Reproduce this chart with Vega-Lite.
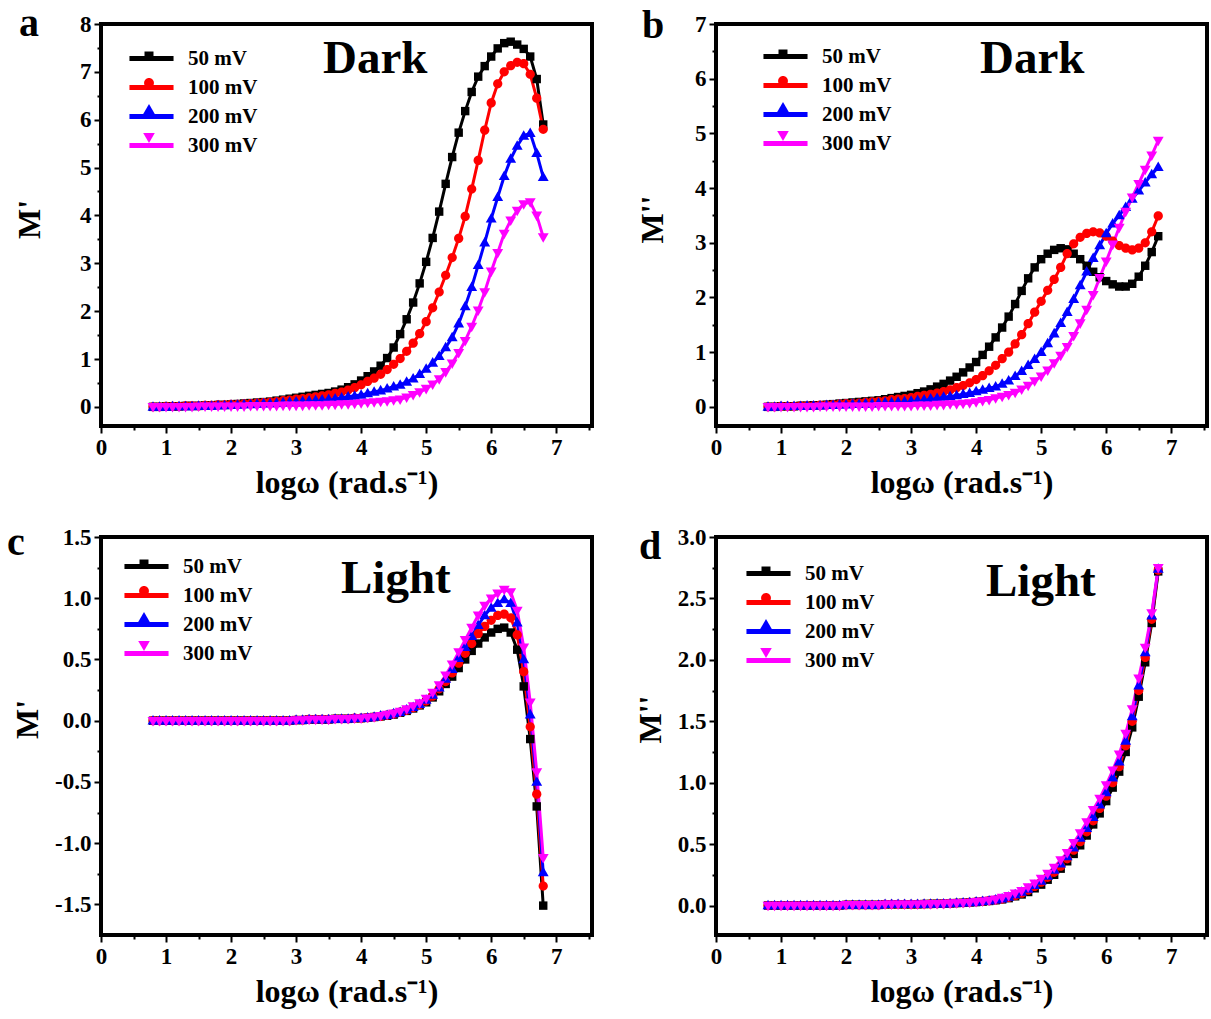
{
"$schema": "https://vega.github.io/schema/vega-lite/v6.json",
"background": "white",
"padding": {"left": 5, "top": 1, "right": 5, "bottom": 5},
"bounds": "flush",
"columns": 2,
"spacing": {"row": 111, "column": 124},
"resolve": {"legend": {"color": "independent", "fill": "independent", "shape": "independent"}},
"config": {
  "font": "Liberation Serif",
  "view": {"stroke": "black", "strokeWidth": 4},
  "axis": {"labelFont": "Liberation Serif", "labelFontWeight": "bold", "labelFontSize": 23, "labelColor": "black", "titleFont": "Liberation Serif", "titleFontWeight": "bold", "titleColor": "black", "domain": false, "grid": false, "tickColor": "black", "tickWidth": 2, "labelOverlap": false, "labelFlush": false, "labelPadding": 3},
  "legend": {"orient": "none", "padding": 0, "labelFont": "Liberation Serif", "labelFontWeight": "bold", "labelFontSize": 21, "labelColor": "black", "labelOffset": 19.5, "rowPadding": 2, "symbolSize": 841, "symbolStrokeWidth": 0, "labelLimit": 300, "titleFont": "Liberation Serif", "titleFontWeight": "bold", "titleFontSize": 47, "titleColor": "black", "titleOrient": "right", "titleAnchor": "start", "titleBaseline": "line-top", "titleLimit": 400}
},
"datasets": {
"a": [
{"v":50,"x":0.8,"y":0},{"v":50,"x":0.9,"y":0},{"v":50,"x":1,"y":0.01},{"v":50,"x":1.1,"y":0.01},{"v":50,"x":1.2,"y":0.01},{"v":50,"x":1.3,"y":0.02},{"v":50,"x":1.4,"y":0.02},{"v":50,"x":1.5,"y":0.02},{"v":50,"x":1.6,"y":0.03},{"v":50,"x":1.7,"y":0.03},{"v":50,"x":1.8,"y":0.04},{"v":50,"x":1.9,"y":0.04},{"v":50,"x":2,"y":0.05},{"v":50,"x":2.1,"y":0.06},{"v":50,"x":2.2,"y":0.07},{"v":50,"x":2.3,"y":0.08},{"v":50,"x":2.4,"y":0.09},{"v":50,"x":2.5,"y":0.1},{"v":50,"x":2.6,"y":0.11},{"v":50,"x":2.7,"y":0.13},{"v":50,"x":2.8,"y":0.15},{"v":50,"x":2.9,"y":0.17},{"v":50,"x":3,"y":0.19},{"v":50,"x":3.1,"y":0.21},{"v":50,"x":3.2,"y":0.23},{"v":50,"x":3.3,"y":0.25},{"v":50,"x":3.4,"y":0.27},{"v":50,"x":3.5,"y":0.29},{"v":50,"x":3.6,"y":0.32},{"v":50,"x":3.7,"y":0.36},{"v":50,"x":3.8,"y":0.41},{"v":50,"x":3.9,"y":0.47},{"v":50,"x":4,"y":0.55},{"v":50,"x":4.1,"y":0.64},{"v":50,"x":4.2,"y":0.74},{"v":50,"x":4.3,"y":0.86},{"v":50,"x":4.4,"y":1.02},{"v":50,"x":4.5,"y":1.24},{"v":50,"x":4.6,"y":1.52},{"v":50,"x":4.7,"y":1.83},{"v":50,"x":4.8,"y":2.18},{"v":50,"x":4.9,"y":2.58},{"v":50,"x":5,"y":3.03},{"v":50,"x":5.1,"y":3.53},{"v":50,"x":5.2,"y":4.08},{"v":50,"x":5.3,"y":4.66},{"v":50,"x":5.4,"y":5.22},{"v":50,"x":5.5,"y":5.73},{"v":50,"x":5.6,"y":6.18},{"v":50,"x":5.7,"y":6.58},{"v":50,"x":5.8,"y":6.9},{"v":50,"x":5.9,"y":7.12},{"v":50,"x":6,"y":7.32},{"v":50,"x":6.1,"y":7.49},{"v":50,"x":6.2,"y":7.6},{"v":50,"x":6.3,"y":7.63},{"v":50,"x":6.4,"y":7.57},{"v":50,"x":6.5,"y":7.48},{"v":50,"x":6.6,"y":7.32},{"v":50,"x":6.7,"y":6.85},{"v":50,"x":6.8,"y":5.9},
{"v":100,"x":0.8,"y":0},{"v":100,"x":0.9,"y":0},{"v":100,"x":1,"y":0.01},{"v":100,"x":1.1,"y":0.01},{"v":100,"x":1.2,"y":0.01},{"v":100,"x":1.3,"y":0.02},{"v":100,"x":1.4,"y":0.02},{"v":100,"x":1.5,"y":0.02},{"v":100,"x":1.6,"y":0.03},{"v":100,"x":1.7,"y":0.03},{"v":100,"x":1.8,"y":0.04},{"v":100,"x":1.9,"y":0.04},{"v":100,"x":2,"y":0.05},{"v":100,"x":2.1,"y":0.05},{"v":100,"x":2.2,"y":0.06},{"v":100,"x":2.3,"y":0.07},{"v":100,"x":2.4,"y":0.08},{"v":100,"x":2.5,"y":0.09},{"v":100,"x":2.6,"y":0.1},{"v":100,"x":2.7,"y":0.11},{"v":100,"x":2.8,"y":0.13},{"v":100,"x":2.9,"y":0.14},{"v":100,"x":3,"y":0.16},{"v":100,"x":3.1,"y":0.17},{"v":100,"x":3.2,"y":0.19},{"v":100,"x":3.3,"y":0.21},{"v":100,"x":3.4,"y":0.23},{"v":100,"x":3.5,"y":0.25},{"v":100,"x":3.6,"y":0.28},{"v":100,"x":3.7,"y":0.31},{"v":100,"x":3.8,"y":0.35},{"v":100,"x":3.9,"y":0.4},{"v":100,"x":4,"y":0.46},{"v":100,"x":4.1,"y":0.53},{"v":100,"x":4.2,"y":0.6},{"v":100,"x":4.3,"y":0.68},{"v":100,"x":4.4,"y":0.78},{"v":100,"x":4.5,"y":0.89},{"v":100,"x":4.6,"y":1.01},{"v":100,"x":4.7,"y":1.16},{"v":100,"x":4.8,"y":1.33},{"v":100,"x":4.9,"y":1.53},{"v":100,"x":5,"y":1.78},{"v":100,"x":5.1,"y":2.07},{"v":100,"x":5.2,"y":2.4},{"v":100,"x":5.3,"y":2.75},{"v":100,"x":5.4,"y":3.12},{"v":100,"x":5.5,"y":3.52},{"v":100,"x":5.6,"y":3.98},{"v":100,"x":5.7,"y":4.55},{"v":100,"x":5.8,"y":5.15},{"v":100,"x":5.9,"y":5.78},{"v":100,"x":6,"y":6.35},{"v":100,"x":6.1,"y":6.75},{"v":100,"x":6.2,"y":7},{"v":100,"x":6.3,"y":7.13},{"v":100,"x":6.4,"y":7.2},{"v":100,"x":6.5,"y":7.17},{"v":100,"x":6.6,"y":6.95},{"v":100,"x":6.7,"y":6.45},{"v":100,"x":6.8,"y":5.8},
{"v":200,"x":0.8,"y":0},{"v":200,"x":0.9,"y":0},{"v":200,"x":1,"y":0},{"v":200,"x":1.1,"y":0.01},{"v":200,"x":1.2,"y":0.01},{"v":200,"x":1.3,"y":0.01},{"v":200,"x":1.4,"y":0.01},{"v":200,"x":1.5,"y":0.02},{"v":200,"x":1.6,"y":0.02},{"v":200,"x":1.7,"y":0.02},{"v":200,"x":1.8,"y":0.03},{"v":200,"x":1.9,"y":0.03},{"v":200,"x":2,"y":0.04},{"v":200,"x":2.1,"y":0.04},{"v":200,"x":2.2,"y":0.05},{"v":200,"x":2.3,"y":0.05},{"v":200,"x":2.4,"y":0.06},{"v":200,"x":2.5,"y":0.07},{"v":200,"x":2.6,"y":0.07},{"v":200,"x":2.7,"y":0.08},{"v":200,"x":2.8,"y":0.09},{"v":200,"x":2.9,"y":0.1},{"v":200,"x":3,"y":0.11},{"v":200,"x":3.1,"y":0.12},{"v":200,"x":3.2,"y":0.13},{"v":200,"x":3.3,"y":0.14},{"v":200,"x":3.4,"y":0.15},{"v":200,"x":3.5,"y":0.16},{"v":200,"x":3.6,"y":0.17},{"v":200,"x":3.7,"y":0.19},{"v":200,"x":3.8,"y":0.21},{"v":200,"x":3.9,"y":0.23},{"v":200,"x":4,"y":0.25},{"v":200,"x":4.1,"y":0.28},{"v":200,"x":4.2,"y":0.31},{"v":200,"x":4.3,"y":0.34},{"v":200,"x":4.4,"y":0.38},{"v":200,"x":4.5,"y":0.42},{"v":200,"x":4.6,"y":0.46},{"v":200,"x":4.7,"y":0.52},{"v":200,"x":4.8,"y":0.59},{"v":200,"x":4.9,"y":0.68},{"v":200,"x":5,"y":0.79},{"v":200,"x":5.1,"y":0.92},{"v":200,"x":5.2,"y":1.06},{"v":200,"x":5.3,"y":1.24},{"v":200,"x":5.4,"y":1.45},{"v":200,"x":5.5,"y":1.74},{"v":200,"x":5.6,"y":2.1},{"v":200,"x":5.7,"y":2.5},{"v":200,"x":5.8,"y":2.96},{"v":200,"x":5.9,"y":3.43},{"v":200,"x":6,"y":3.93},{"v":200,"x":6.1,"y":4.38},{"v":200,"x":6.2,"y":4.82},{"v":200,"x":6.3,"y":5.18},{"v":200,"x":6.4,"y":5.45},{"v":200,"x":6.5,"y":5.66},{"v":200,"x":6.6,"y":5.72},{"v":200,"x":6.7,"y":5.3},{"v":200,"x":6.8,"y":4.8},
{"v":300,"x":0.8,"y":0},{"v":300,"x":0.9,"y":0},{"v":300,"x":1,"y":0},{"v":300,"x":1.1,"y":0},{"v":300,"x":1.2,"y":0},{"v":300,"x":1.3,"y":0},{"v":300,"x":1.4,"y":0},{"v":300,"x":1.5,"y":0.01},{"v":300,"x":1.6,"y":0.01},{"v":300,"x":1.7,"y":0.01},{"v":300,"x":1.8,"y":0.01},{"v":300,"x":1.9,"y":0.01},{"v":300,"x":2,"y":0.01},{"v":300,"x":2.1,"y":0.01},{"v":300,"x":2.2,"y":0.01},{"v":300,"x":2.3,"y":0.02},{"v":300,"x":2.4,"y":0.02},{"v":300,"x":2.5,"y":0.02},{"v":300,"x":2.6,"y":0.02},{"v":300,"x":2.7,"y":0.02},{"v":300,"x":2.8,"y":0.03},{"v":300,"x":2.9,"y":0.03},{"v":300,"x":3,"y":0.03},{"v":300,"x":3.1,"y":0.03},{"v":300,"x":3.2,"y":0.04},{"v":300,"x":3.3,"y":0.04},{"v":300,"x":3.4,"y":0.04},{"v":300,"x":3.5,"y":0.05},{"v":300,"x":3.6,"y":0.05},{"v":300,"x":3.7,"y":0.06},{"v":300,"x":3.8,"y":0.06},{"v":300,"x":3.9,"y":0.07},{"v":300,"x":4,"y":0.08},{"v":300,"x":4.1,"y":0.09},{"v":300,"x":4.2,"y":0.1},{"v":300,"x":4.3,"y":0.11},{"v":300,"x":4.4,"y":0.12},{"v":300,"x":4.5,"y":0.14},{"v":300,"x":4.6,"y":0.16},{"v":300,"x":4.7,"y":0.2},{"v":300,"x":4.8,"y":0.25},{"v":300,"x":4.9,"y":0.31},{"v":300,"x":5,"y":0.38},{"v":300,"x":5.1,"y":0.47},{"v":300,"x":5.2,"y":0.58},{"v":300,"x":5.3,"y":0.73},{"v":300,"x":5.4,"y":0.91},{"v":300,"x":5.5,"y":1.13},{"v":300,"x":5.6,"y":1.38},{"v":300,"x":5.7,"y":1.68},{"v":300,"x":5.8,"y":2.02},{"v":300,"x":5.9,"y":2.4},{"v":300,"x":6,"y":2.83},{"v":300,"x":6.1,"y":3.22},{"v":300,"x":6.2,"y":3.62},{"v":300,"x":6.3,"y":3.9},{"v":300,"x":6.4,"y":4.1},{"v":300,"x":6.5,"y":4.24},{"v":300,"x":6.6,"y":4.28},{"v":300,"x":6.7,"y":4},{"v":300,"x":6.8,"y":3.55}
],
"b": [
{"v":50,"x":0.8,"y":0},{"v":50,"x":0.9,"y":0},{"v":50,"x":1,"y":0.01},{"v":50,"x":1.1,"y":0.01},{"v":50,"x":1.2,"y":0.01},{"v":50,"x":1.3,"y":0.02},{"v":50,"x":1.4,"y":0.02},{"v":50,"x":1.5,"y":0.03},{"v":50,"x":1.6,"y":0.03},{"v":50,"x":1.7,"y":0.04},{"v":50,"x":1.8,"y":0.05},{"v":50,"x":1.9,"y":0.06},{"v":50,"x":2,"y":0.07},{"v":50,"x":2.1,"y":0.08},{"v":50,"x":2.2,"y":0.09},{"v":50,"x":2.3,"y":0.1},{"v":50,"x":2.4,"y":0.11},{"v":50,"x":2.5,"y":0.12},{"v":50,"x":2.6,"y":0.14},{"v":50,"x":2.7,"y":0.16},{"v":50,"x":2.8,"y":0.18},{"v":50,"x":2.9,"y":0.2},{"v":50,"x":3,"y":0.22},{"v":50,"x":3.1,"y":0.25},{"v":50,"x":3.2,"y":0.28},{"v":50,"x":3.3,"y":0.32},{"v":50,"x":3.4,"y":0.37},{"v":50,"x":3.5,"y":0.42},{"v":50,"x":3.6,"y":0.48},{"v":50,"x":3.7,"y":0.55},{"v":50,"x":3.8,"y":0.63},{"v":50,"x":3.9,"y":0.72},{"v":50,"x":4,"y":0.82},{"v":50,"x":4.1,"y":0.95},{"v":50,"x":4.2,"y":1.1},{"v":50,"x":4.3,"y":1.27},{"v":50,"x":4.4,"y":1.45},{"v":50,"x":4.5,"y":1.65},{"v":50,"x":4.6,"y":1.88},{"v":50,"x":4.7,"y":2.12},{"v":50,"x":4.8,"y":2.35},{"v":50,"x":4.9,"y":2.55},{"v":50,"x":5,"y":2.7},{"v":50,"x":5.1,"y":2.8},{"v":50,"x":5.2,"y":2.87},{"v":50,"x":5.3,"y":2.9},{"v":50,"x":5.4,"y":2.88},{"v":50,"x":5.5,"y":2.8},{"v":50,"x":5.6,"y":2.7},{"v":50,"x":5.7,"y":2.58},{"v":50,"x":5.8,"y":2.47},{"v":50,"x":5.9,"y":2.37},{"v":50,"x":6,"y":2.3},{"v":50,"x":6.1,"y":2.24},{"v":50,"x":6.2,"y":2.2},{"v":50,"x":6.3,"y":2.2},{"v":50,"x":6.4,"y":2.25},{"v":50,"x":6.5,"y":2.38},{"v":50,"x":6.6,"y":2.58},{"v":50,"x":6.7,"y":2.83},{"v":50,"x":6.8,"y":3.12},
{"v":100,"x":0.8,"y":0},{"v":100,"x":0.9,"y":0},{"v":100,"x":1,"y":0.01},{"v":100,"x":1.1,"y":0.01},{"v":100,"x":1.2,"y":0.01},{"v":100,"x":1.3,"y":0.02},{"v":100,"x":1.4,"y":0.02},{"v":100,"x":1.5,"y":0.02},{"v":100,"x":1.6,"y":0.03},{"v":100,"x":1.7,"y":0.03},{"v":100,"x":1.8,"y":0.04},{"v":100,"x":1.9,"y":0.05},{"v":100,"x":2,"y":0.06},{"v":100,"x":2.1,"y":0.06},{"v":100,"x":2.2,"y":0.07},{"v":100,"x":2.3,"y":0.08},{"v":100,"x":2.4,"y":0.09},{"v":100,"x":2.5,"y":0.1},{"v":100,"x":2.6,"y":0.11},{"v":100,"x":2.7,"y":0.13},{"v":100,"x":2.8,"y":0.14},{"v":100,"x":2.9,"y":0.15},{"v":100,"x":3,"y":0.17},{"v":100,"x":3.1,"y":0.19},{"v":100,"x":3.2,"y":0.21},{"v":100,"x":3.3,"y":0.23},{"v":100,"x":3.4,"y":0.25},{"v":100,"x":3.5,"y":0.28},{"v":100,"x":3.6,"y":0.31},{"v":100,"x":3.7,"y":0.35},{"v":100,"x":3.8,"y":0.39},{"v":100,"x":3.9,"y":0.44},{"v":100,"x":4,"y":0.5},{"v":100,"x":4.1,"y":0.57},{"v":100,"x":4.2,"y":0.66},{"v":100,"x":4.3,"y":0.76},{"v":100,"x":4.4,"y":0.88},{"v":100,"x":4.5,"y":1},{"v":100,"x":4.6,"y":1.15},{"v":100,"x":4.7,"y":1.32},{"v":100,"x":4.8,"y":1.52},{"v":100,"x":4.9,"y":1.73},{"v":100,"x":5,"y":1.93},{"v":100,"x":5.1,"y":2.13},{"v":100,"x":5.2,"y":2.33},{"v":100,"x":5.3,"y":2.55},{"v":100,"x":5.4,"y":2.8},{"v":100,"x":5.5,"y":2.98},{"v":100,"x":5.6,"y":3.1},{"v":100,"x":5.7,"y":3.17},{"v":100,"x":5.8,"y":3.2},{"v":100,"x":5.9,"y":3.18},{"v":100,"x":6,"y":3.12},{"v":100,"x":6.1,"y":3.03},{"v":100,"x":6.2,"y":2.95},{"v":100,"x":6.3,"y":2.9},{"v":100,"x":6.4,"y":2.87},{"v":100,"x":6.5,"y":2.9},{"v":100,"x":6.6,"y":3},{"v":100,"x":6.7,"y":3.2},{"v":100,"x":6.8,"y":3.49},
{"v":200,"x":0.8,"y":0},{"v":200,"x":0.9,"y":0},{"v":200,"x":1,"y":0.01},{"v":200,"x":1.1,"y":0.01},{"v":200,"x":1.2,"y":0.01},{"v":200,"x":1.3,"y":0.01},{"v":200,"x":1.4,"y":0.02},{"v":200,"x":1.5,"y":0.02},{"v":200,"x":1.6,"y":0.02},{"v":200,"x":1.7,"y":0.03},{"v":200,"x":1.8,"y":0.03},{"v":200,"x":1.9,"y":0.04},{"v":200,"x":2,"y":0.04},{"v":200,"x":2.1,"y":0.05},{"v":200,"x":2.2,"y":0.05},{"v":200,"x":2.3,"y":0.06},{"v":200,"x":2.4,"y":0.06},{"v":200,"x":2.5,"y":0.07},{"v":200,"x":2.6,"y":0.08},{"v":200,"x":2.7,"y":0.08},{"v":200,"x":2.8,"y":0.09},{"v":200,"x":2.9,"y":0.1},{"v":200,"x":3,"y":0.11},{"v":200,"x":3.1,"y":0.12},{"v":200,"x":3.2,"y":0.13},{"v":200,"x":3.3,"y":0.15},{"v":200,"x":3.4,"y":0.16},{"v":200,"x":3.5,"y":0.18},{"v":200,"x":3.6,"y":0.19},{"v":200,"x":3.7,"y":0.21},{"v":200,"x":3.8,"y":0.23},{"v":200,"x":3.9,"y":0.25},{"v":200,"x":4,"y":0.28},{"v":200,"x":4.1,"y":0.31},{"v":200,"x":4.2,"y":0.34},{"v":200,"x":4.3,"y":0.37},{"v":200,"x":4.4,"y":0.42},{"v":200,"x":4.5,"y":0.48},{"v":200,"x":4.6,"y":0.56},{"v":200,"x":4.7,"y":0.65},{"v":200,"x":4.8,"y":0.76},{"v":200,"x":4.9,"y":0.87},{"v":200,"x":5,"y":1},{"v":200,"x":5.1,"y":1.16},{"v":200,"x":5.2,"y":1.34},{"v":200,"x":5.3,"y":1.53},{"v":200,"x":5.4,"y":1.73},{"v":200,"x":5.5,"y":1.97},{"v":200,"x":5.6,"y":2.22},{"v":200,"x":5.7,"y":2.47},{"v":200,"x":5.8,"y":2.72},{"v":200,"x":5.9,"y":2.95},{"v":200,"x":6,"y":3.17},{"v":200,"x":6.1,"y":3.35},{"v":200,"x":6.2,"y":3.5},{"v":200,"x":6.3,"y":3.65},{"v":200,"x":6.4,"y":3.8},{"v":200,"x":6.5,"y":3.95},{"v":200,"x":6.6,"y":4.1},{"v":200,"x":6.7,"y":4.25},{"v":200,"x":6.8,"y":4.38},
{"v":300,"x":0.8,"y":0},{"v":300,"x":0.9,"y":0},{"v":300,"x":1,"y":0},{"v":300,"x":1.1,"y":0},{"v":300,"x":1.2,"y":0},{"v":300,"x":1.3,"y":0},{"v":300,"x":1.4,"y":0},{"v":300,"x":1.5,"y":0},{"v":300,"x":1.6,"y":0.01},{"v":300,"x":1.7,"y":0.01},{"v":300,"x":1.8,"y":0.01},{"v":300,"x":1.9,"y":0.01},{"v":300,"x":2,"y":0.01},{"v":300,"x":2.1,"y":0.01},{"v":300,"x":2.2,"y":0.01},{"v":300,"x":2.3,"y":0.01},{"v":300,"x":2.4,"y":0.01},{"v":300,"x":2.5,"y":0.02},{"v":300,"x":2.6,"y":0.02},{"v":300,"x":2.7,"y":0.02},{"v":300,"x":2.8,"y":0.02},{"v":300,"x":2.9,"y":0.02},{"v":300,"x":3,"y":0.02},{"v":300,"x":3.1,"y":0.03},{"v":300,"x":3.2,"y":0.03},{"v":300,"x":3.3,"y":0.03},{"v":300,"x":3.4,"y":0.04},{"v":300,"x":3.5,"y":0.04},{"v":300,"x":3.6,"y":0.05},{"v":300,"x":3.7,"y":0.05},{"v":300,"x":3.8,"y":0.06},{"v":300,"x":3.9,"y":0.07},{"v":300,"x":4,"y":0.09},{"v":300,"x":4.1,"y":0.11},{"v":300,"x":4.2,"y":0.13},{"v":300,"x":4.3,"y":0.16},{"v":300,"x":4.4,"y":0.19},{"v":300,"x":4.5,"y":0.22},{"v":300,"x":4.6,"y":0.26},{"v":300,"x":4.7,"y":0.32},{"v":300,"x":4.8,"y":0.39},{"v":300,"x":4.9,"y":0.47},{"v":300,"x":5,"y":0.56},{"v":300,"x":5.1,"y":0.67},{"v":300,"x":5.2,"y":0.8},{"v":300,"x":5.3,"y":0.94},{"v":300,"x":5.4,"y":1.1},{"v":300,"x":5.5,"y":1.3},{"v":300,"x":5.6,"y":1.53},{"v":300,"x":5.7,"y":1.78},{"v":300,"x":5.8,"y":2.05},{"v":300,"x":5.9,"y":2.36},{"v":300,"x":6,"y":2.66},{"v":300,"x":6.1,"y":2.97},{"v":300,"x":6.2,"y":3.28},{"v":300,"x":6.3,"y":3.57},{"v":300,"x":6.4,"y":3.83},{"v":300,"x":6.5,"y":4.08},{"v":300,"x":6.6,"y":4.34},{"v":300,"x":6.7,"y":4.6},{"v":300,"x":6.8,"y":4.87}
],
"c": [
{"v":50,"x":0.8,"y":0},{"v":50,"x":0.9,"y":0},{"v":50,"x":1,"y":0},{"v":50,"x":1.1,"y":0},{"v":50,"x":1.2,"y":0},{"v":50,"x":1.3,"y":0},{"v":50,"x":1.4,"y":0},{"v":50,"x":1.5,"y":0},{"v":50,"x":1.6,"y":0},{"v":50,"x":1.7,"y":0},{"v":50,"x":1.8,"y":0},{"v":50,"x":1.9,"y":0},{"v":50,"x":2,"y":0},{"v":50,"x":2.1,"y":0},{"v":50,"x":2.2,"y":0},{"v":50,"x":2.3,"y":0},{"v":50,"x":2.4,"y":0},{"v":50,"x":2.5,"y":0},{"v":50,"x":2.6,"y":0},{"v":50,"x":2.7,"y":0},{"v":50,"x":2.8,"y":0},{"v":50,"x":2.9,"y":0},{"v":50,"x":3,"y":0.005},{"v":50,"x":3.1,"y":0.005},{"v":50,"x":3.2,"y":0.01},{"v":50,"x":3.3,"y":0.01},{"v":50,"x":3.4,"y":0.01},{"v":50,"x":3.5,"y":0.01},{"v":50,"x":3.6,"y":0.015},{"v":50,"x":3.7,"y":0.015},{"v":50,"x":3.8,"y":0.015},{"v":50,"x":3.9,"y":0.02},{"v":50,"x":4,"y":0.02},{"v":50,"x":4.1,"y":0.025},{"v":50,"x":4.2,"y":0.03},{"v":50,"x":4.3,"y":0.035},{"v":50,"x":4.4,"y":0.04},{"v":50,"x":4.5,"y":0.05},{"v":50,"x":4.6,"y":0.065},{"v":50,"x":4.7,"y":0.08},{"v":50,"x":4.8,"y":0.1},{"v":50,"x":4.9,"y":0.125},{"v":50,"x":5,"y":0.15},{"v":50,"x":5.1,"y":0.19},{"v":50,"x":5.2,"y":0.24},{"v":50,"x":5.3,"y":0.3},{"v":50,"x":5.4,"y":0.36},{"v":50,"x":5.5,"y":0.43},{"v":50,"x":5.6,"y":0.5},{"v":50,"x":5.7,"y":0.57},{"v":50,"x":5.8,"y":0.63},{"v":50,"x":5.9,"y":0.68},{"v":50,"x":6,"y":0.72},{"v":50,"x":6.1,"y":0.75},{"v":50,"x":6.2,"y":0.76},{"v":50,"x":6.3,"y":0.72},{"v":50,"x":6.4,"y":0.58},{"v":50,"x":6.5,"y":0.28},{"v":50,"x":6.6,"y":-0.15},{"v":50,"x":6.7,"y":-0.7},{"v":50,"x":6.8,"y":-1.51},
{"v":100,"x":0.8,"y":0},{"v":100,"x":0.9,"y":0},{"v":100,"x":1,"y":0},{"v":100,"x":1.1,"y":0},{"v":100,"x":1.2,"y":0},{"v":100,"x":1.3,"y":0},{"v":100,"x":1.4,"y":0},{"v":100,"x":1.5,"y":0},{"v":100,"x":1.6,"y":0},{"v":100,"x":1.7,"y":0},{"v":100,"x":1.8,"y":0},{"v":100,"x":1.9,"y":0},{"v":100,"x":2,"y":0},{"v":100,"x":2.1,"y":0},{"v":100,"x":2.2,"y":0},{"v":100,"x":2.3,"y":0},{"v":100,"x":2.4,"y":0},{"v":100,"x":2.5,"y":0},{"v":100,"x":2.6,"y":0},{"v":100,"x":2.7,"y":0},{"v":100,"x":2.8,"y":0},{"v":100,"x":2.9,"y":0},{"v":100,"x":3,"y":0.005},{"v":100,"x":3.1,"y":0.005},{"v":100,"x":3.2,"y":0.01},{"v":100,"x":3.3,"y":0.01},{"v":100,"x":3.4,"y":0.01},{"v":100,"x":3.5,"y":0.01},{"v":100,"x":3.6,"y":0.015},{"v":100,"x":3.7,"y":0.015},{"v":100,"x":3.8,"y":0.015},{"v":100,"x":3.9,"y":0.02},{"v":100,"x":4,"y":0.02},{"v":100,"x":4.1,"y":0.025},{"v":100,"x":4.2,"y":0.03},{"v":100,"x":4.3,"y":0.035},{"v":100,"x":4.4,"y":0.045},{"v":100,"x":4.5,"y":0.055},{"v":100,"x":4.6,"y":0.07},{"v":100,"x":4.7,"y":0.085},{"v":100,"x":4.8,"y":0.105},{"v":100,"x":4.9,"y":0.13},{"v":100,"x":5,"y":0.16},{"v":100,"x":5.1,"y":0.2},{"v":100,"x":5.2,"y":0.26},{"v":100,"x":5.3,"y":0.32},{"v":100,"x":5.4,"y":0.39},{"v":100,"x":5.5,"y":0.47},{"v":100,"x":5.6,"y":0.55},{"v":100,"x":5.7,"y":0.63},{"v":100,"x":5.8,"y":0.71},{"v":100,"x":5.9,"y":0.77},{"v":100,"x":6,"y":0.82},{"v":100,"x":6.1,"y":0.86},{"v":100,"x":6.2,"y":0.87},{"v":100,"x":6.3,"y":0.84},{"v":100,"x":6.4,"y":0.7},{"v":100,"x":6.5,"y":0.4},{"v":100,"x":6.6,"y":-0.05},{"v":100,"x":6.7,"y":-0.6},{"v":100,"x":6.8,"y":-1.35},
{"v":200,"x":0.8,"y":0},{"v":200,"x":0.9,"y":0},{"v":200,"x":1,"y":0},{"v":200,"x":1.1,"y":0},{"v":200,"x":1.2,"y":0},{"v":200,"x":1.3,"y":0},{"v":200,"x":1.4,"y":0},{"v":200,"x":1.5,"y":0},{"v":200,"x":1.6,"y":0},{"v":200,"x":1.7,"y":0},{"v":200,"x":1.8,"y":0},{"v":200,"x":1.9,"y":0},{"v":200,"x":2,"y":0},{"v":200,"x":2.1,"y":0},{"v":200,"x":2.2,"y":0},{"v":200,"x":2.3,"y":0},{"v":200,"x":2.4,"y":0},{"v":200,"x":2.5,"y":0},{"v":200,"x":2.6,"y":0},{"v":200,"x":2.7,"y":0},{"v":200,"x":2.8,"y":0},{"v":200,"x":2.9,"y":0},{"v":200,"x":3,"y":0.005},{"v":200,"x":3.1,"y":0.005},{"v":200,"x":3.2,"y":0.01},{"v":200,"x":3.3,"y":0.01},{"v":200,"x":3.4,"y":0.01},{"v":200,"x":3.5,"y":0.01},{"v":200,"x":3.6,"y":0.015},{"v":200,"x":3.7,"y":0.015},{"v":200,"x":3.8,"y":0.015},{"v":200,"x":3.9,"y":0.02},{"v":200,"x":4,"y":0.02},{"v":200,"x":4.1,"y":0.025},{"v":200,"x":4.2,"y":0.03},{"v":200,"x":4.3,"y":0.04},{"v":200,"x":4.4,"y":0.045},{"v":200,"x":4.5,"y":0.06},{"v":200,"x":4.6,"y":0.07},{"v":200,"x":4.7,"y":0.09},{"v":200,"x":4.8,"y":0.11},{"v":200,"x":4.9,"y":0.135},{"v":200,"x":5,"y":0.17},{"v":200,"x":5.1,"y":0.21},{"v":200,"x":5.2,"y":0.27},{"v":200,"x":5.3,"y":0.34},{"v":200,"x":5.4,"y":0.42},{"v":200,"x":5.5,"y":0.51},{"v":200,"x":5.6,"y":0.6},{"v":200,"x":5.7,"y":0.69},{"v":200,"x":5.8,"y":0.78},{"v":200,"x":5.9,"y":0.86},{"v":200,"x":6,"y":0.92},{"v":200,"x":6.1,"y":0.96},{"v":200,"x":6.2,"y":0.99},{"v":200,"x":6.3,"y":0.96},{"v":200,"x":6.4,"y":0.8},{"v":200,"x":6.5,"y":0.5},{"v":200,"x":6.6,"y":0.05},{"v":200,"x":6.7,"y":-0.5},{"v":200,"x":6.8,"y":-1.24},
{"v":300,"x":0.8,"y":0},{"v":300,"x":0.9,"y":0},{"v":300,"x":1,"y":0},{"v":300,"x":1.1,"y":0},{"v":300,"x":1.2,"y":0},{"v":300,"x":1.3,"y":0},{"v":300,"x":1.4,"y":0},{"v":300,"x":1.5,"y":0},{"v":300,"x":1.6,"y":0},{"v":300,"x":1.7,"y":0},{"v":300,"x":1.8,"y":0},{"v":300,"x":1.9,"y":0},{"v":300,"x":2,"y":0},{"v":300,"x":2.1,"y":0},{"v":300,"x":2.2,"y":0},{"v":300,"x":2.3,"y":0},{"v":300,"x":2.4,"y":0},{"v":300,"x":2.5,"y":0},{"v":300,"x":2.6,"y":0},{"v":300,"x":2.7,"y":0},{"v":300,"x":2.8,"y":0},{"v":300,"x":2.9,"y":0},{"v":300,"x":3,"y":0.005},{"v":300,"x":3.1,"y":0.005},{"v":300,"x":3.2,"y":0.01},{"v":300,"x":3.3,"y":0.01},{"v":300,"x":3.4,"y":0.01},{"v":300,"x":3.5,"y":0.01},{"v":300,"x":3.6,"y":0.015},{"v":300,"x":3.7,"y":0.015},{"v":300,"x":3.8,"y":0.015},{"v":300,"x":3.9,"y":0.02},{"v":300,"x":4,"y":0.02},{"v":300,"x":4.1,"y":0.025},{"v":300,"x":4.2,"y":0.03},{"v":300,"x":4.3,"y":0.04},{"v":300,"x":4.4,"y":0.05},{"v":300,"x":4.5,"y":0.06},{"v":300,"x":4.6,"y":0.075},{"v":300,"x":4.7,"y":0.095},{"v":300,"x":4.8,"y":0.12},{"v":300,"x":4.9,"y":0.145},{"v":300,"x":5,"y":0.18},{"v":300,"x":5.1,"y":0.23},{"v":300,"x":5.2,"y":0.29},{"v":300,"x":5.3,"y":0.37},{"v":300,"x":5.4,"y":0.46},{"v":300,"x":5.5,"y":0.56},{"v":300,"x":5.6,"y":0.66},{"v":300,"x":5.7,"y":0.76},{"v":300,"x":5.8,"y":0.86},{"v":300,"x":5.9,"y":0.94},{"v":300,"x":6,"y":1},{"v":300,"x":6.1,"y":1.04},{"v":300,"x":6.2,"y":1.07},{"v":300,"x":6.3,"y":1.05},{"v":300,"x":6.4,"y":0.9},{"v":300,"x":6.5,"y":0.6},{"v":300,"x":6.6,"y":0.15},{"v":300,"x":6.7,"y":-0.42},{"v":300,"x":6.8,"y":-1.12}
],
"d": [
{"v":50,"x":0.8,"y":0},{"v":50,"x":0.9,"y":0},{"v":50,"x":1,"y":0},{"v":50,"x":1.1,"y":0},{"v":50,"x":1.2,"y":0},{"v":50,"x":1.3,"y":0},{"v":50,"x":1.4,"y":0},{"v":50,"x":1.5,"y":0},{"v":50,"x":1.6,"y":0},{"v":50,"x":1.7,"y":0},{"v":50,"x":1.8,"y":0},{"v":50,"x":1.9,"y":0},{"v":50,"x":2,"y":0.005},{"v":50,"x":2.1,"y":0.005},{"v":50,"x":2.2,"y":0.005},{"v":50,"x":2.3,"y":0.005},{"v":50,"x":2.4,"y":0.005},{"v":50,"x":2.5,"y":0.005},{"v":50,"x":2.6,"y":0.01},{"v":50,"x":2.7,"y":0.01},{"v":50,"x":2.8,"y":0.01},{"v":50,"x":2.9,"y":0.01},{"v":50,"x":3,"y":0.01},{"v":50,"x":3.1,"y":0.01},{"v":50,"x":3.2,"y":0.012},{"v":50,"x":3.3,"y":0.013},{"v":50,"x":3.4,"y":0.014},{"v":50,"x":3.5,"y":0.015},{"v":50,"x":3.6,"y":0.017},{"v":50,"x":3.7,"y":0.02},{"v":50,"x":3.8,"y":0.022},{"v":50,"x":3.9,"y":0.025},{"v":50,"x":4,"y":0.028},{"v":50,"x":4.1,"y":0.032},{"v":50,"x":4.2,"y":0.037},{"v":50,"x":4.3,"y":0.043},{"v":50,"x":4.4,"y":0.05},{"v":50,"x":4.5,"y":0.06},{"v":50,"x":4.6,"y":0.075},{"v":50,"x":4.7,"y":0.09},{"v":50,"x":4.8,"y":0.11},{"v":50,"x":4.9,"y":0.14},{"v":50,"x":5,"y":0.17},{"v":50,"x":5.1,"y":0.21},{"v":50,"x":5.2,"y":0.25},{"v":50,"x":5.3,"y":0.3},{"v":50,"x":5.4,"y":0.36},{"v":50,"x":5.5,"y":0.42},{"v":50,"x":5.6,"y":0.49},{"v":50,"x":5.7,"y":0.57},{"v":50,"x":5.8,"y":0.66},{"v":50,"x":5.9,"y":0.75},{"v":50,"x":6,"y":0.85},{"v":50,"x":6.1,"y":0.96},{"v":50,"x":6.2,"y":1.09},{"v":50,"x":6.3,"y":1.25},{"v":50,"x":6.4,"y":1.45},{"v":50,"x":6.5,"y":1.7},{"v":50,"x":6.6,"y":1.98},{"v":50,"x":6.7,"y":2.3},{"v":50,"x":6.8,"y":2.72},
{"v":100,"x":0.8,"y":0},{"v":100,"x":0.9,"y":0},{"v":100,"x":1,"y":0},{"v":100,"x":1.1,"y":0},{"v":100,"x":1.2,"y":0},{"v":100,"x":1.3,"y":0},{"v":100,"x":1.4,"y":0},{"v":100,"x":1.5,"y":0},{"v":100,"x":1.6,"y":0},{"v":100,"x":1.7,"y":0},{"v":100,"x":1.8,"y":0},{"v":100,"x":1.9,"y":0},{"v":100,"x":2,"y":0.005},{"v":100,"x":2.1,"y":0.005},{"v":100,"x":2.2,"y":0.005},{"v":100,"x":2.3,"y":0.005},{"v":100,"x":2.4,"y":0.005},{"v":100,"x":2.5,"y":0.005},{"v":100,"x":2.6,"y":0.01},{"v":100,"x":2.7,"y":0.01},{"v":100,"x":2.8,"y":0.01},{"v":100,"x":2.9,"y":0.01},{"v":100,"x":3,"y":0.01},{"v":100,"x":3.1,"y":0.01},{"v":100,"x":3.2,"y":0.012},{"v":100,"x":3.3,"y":0.013},{"v":100,"x":3.4,"y":0.014},{"v":100,"x":3.5,"y":0.015},{"v":100,"x":3.6,"y":0.017},{"v":100,"x":3.7,"y":0.02},{"v":100,"x":3.8,"y":0.022},{"v":100,"x":3.9,"y":0.025},{"v":100,"x":4,"y":0.03},{"v":100,"x":4.1,"y":0.034},{"v":100,"x":4.2,"y":0.039},{"v":100,"x":4.3,"y":0.045},{"v":100,"x":4.4,"y":0.053},{"v":100,"x":4.5,"y":0.065},{"v":100,"x":4.6,"y":0.08},{"v":100,"x":4.7,"y":0.1},{"v":100,"x":4.8,"y":0.125},{"v":100,"x":4.9,"y":0.155},{"v":100,"x":5,"y":0.19},{"v":100,"x":5.1,"y":0.23},{"v":100,"x":5.2,"y":0.27},{"v":100,"x":5.3,"y":0.32},{"v":100,"x":5.4,"y":0.38},{"v":100,"x":5.5,"y":0.45},{"v":100,"x":5.6,"y":0.52},{"v":100,"x":5.7,"y":0.6},{"v":100,"x":5.8,"y":0.69},{"v":100,"x":5.9,"y":0.79},{"v":100,"x":6,"y":0.89},{"v":100,"x":6.1,"y":1},{"v":100,"x":6.2,"y":1.13},{"v":100,"x":6.3,"y":1.3},{"v":100,"x":6.4,"y":1.5},{"v":100,"x":6.5,"y":1.75},{"v":100,"x":6.6,"y":2.02},{"v":100,"x":6.7,"y":2.33},{"v":100,"x":6.8,"y":2.73},
{"v":200,"x":0.8,"y":0},{"v":200,"x":0.9,"y":0},{"v":200,"x":1,"y":0},{"v":200,"x":1.1,"y":0},{"v":200,"x":1.2,"y":0},{"v":200,"x":1.3,"y":0},{"v":200,"x":1.4,"y":0},{"v":200,"x":1.5,"y":0},{"v":200,"x":1.6,"y":0},{"v":200,"x":1.7,"y":0},{"v":200,"x":1.8,"y":0},{"v":200,"x":1.9,"y":0},{"v":200,"x":2,"y":0.005},{"v":200,"x":2.1,"y":0.005},{"v":200,"x":2.2,"y":0.005},{"v":200,"x":2.3,"y":0.005},{"v":200,"x":2.4,"y":0.005},{"v":200,"x":2.5,"y":0.005},{"v":200,"x":2.6,"y":0.01},{"v":200,"x":2.7,"y":0.01},{"v":200,"x":2.8,"y":0.01},{"v":200,"x":2.9,"y":0.01},{"v":200,"x":3,"y":0.01},{"v":200,"x":3.1,"y":0.01},{"v":200,"x":3.2,"y":0.012},{"v":200,"x":3.3,"y":0.013},{"v":200,"x":3.4,"y":0.014},{"v":200,"x":3.5,"y":0.015},{"v":200,"x":3.6,"y":0.017},{"v":200,"x":3.7,"y":0.02},{"v":200,"x":3.8,"y":0.022},{"v":200,"x":3.9,"y":0.025},{"v":200,"x":4,"y":0.03},{"v":200,"x":4.1,"y":0.035},{"v":200,"x":4.2,"y":0.04},{"v":200,"x":4.3,"y":0.047},{"v":200,"x":4.4,"y":0.056},{"v":200,"x":4.5,"y":0.07},{"v":200,"x":4.6,"y":0.09},{"v":200,"x":4.7,"y":0.11},{"v":200,"x":4.8,"y":0.135},{"v":200,"x":4.9,"y":0.165},{"v":200,"x":5,"y":0.2},{"v":200,"x":5.1,"y":0.24},{"v":200,"x":5.2,"y":0.29},{"v":200,"x":5.3,"y":0.34},{"v":200,"x":5.4,"y":0.4},{"v":200,"x":5.5,"y":0.47},{"v":200,"x":5.6,"y":0.55},{"v":200,"x":5.7,"y":0.63},{"v":200,"x":5.8,"y":0.72},{"v":200,"x":5.9,"y":0.82},{"v":200,"x":6,"y":0.92},{"v":200,"x":6.1,"y":1.04},{"v":200,"x":6.2,"y":1.17},{"v":200,"x":6.3,"y":1.34},{"v":200,"x":6.4,"y":1.54},{"v":200,"x":6.5,"y":1.79},{"v":200,"x":6.6,"y":2.06},{"v":200,"x":6.7,"y":2.36},{"v":200,"x":6.8,"y":2.74},
{"v":300,"x":0.8,"y":0},{"v":300,"x":0.9,"y":0},{"v":300,"x":1,"y":0},{"v":300,"x":1.1,"y":0},{"v":300,"x":1.2,"y":0},{"v":300,"x":1.3,"y":0},{"v":300,"x":1.4,"y":0},{"v":300,"x":1.5,"y":0},{"v":300,"x":1.6,"y":0},{"v":300,"x":1.7,"y":0},{"v":300,"x":1.8,"y":0},{"v":300,"x":1.9,"y":0},{"v":300,"x":2,"y":0.005},{"v":300,"x":2.1,"y":0.005},{"v":300,"x":2.2,"y":0.005},{"v":300,"x":2.3,"y":0.005},{"v":300,"x":2.4,"y":0.005},{"v":300,"x":2.5,"y":0.005},{"v":300,"x":2.6,"y":0.01},{"v":300,"x":2.7,"y":0.01},{"v":300,"x":2.8,"y":0.01},{"v":300,"x":2.9,"y":0.01},{"v":300,"x":3,"y":0.01},{"v":300,"x":3.1,"y":0.01},{"v":300,"x":3.2,"y":0.012},{"v":300,"x":3.3,"y":0.013},{"v":300,"x":3.4,"y":0.014},{"v":300,"x":3.5,"y":0.015},{"v":300,"x":3.6,"y":0.017},{"v":300,"x":3.7,"y":0.02},{"v":300,"x":3.8,"y":0.022},{"v":300,"x":3.9,"y":0.025},{"v":300,"x":4,"y":0.03},{"v":300,"x":4.1,"y":0.035},{"v":300,"x":4.2,"y":0.04},{"v":300,"x":4.3,"y":0.05},{"v":300,"x":4.4,"y":0.065},{"v":300,"x":4.5,"y":0.08},{"v":300,"x":4.6,"y":0.1},{"v":300,"x":4.7,"y":0.12},{"v":300,"x":4.8,"y":0.15},{"v":300,"x":4.9,"y":0.18},{"v":300,"x":5,"y":0.22},{"v":300,"x":5.1,"y":0.26},{"v":300,"x":5.2,"y":0.31},{"v":300,"x":5.3,"y":0.37},{"v":300,"x":5.4,"y":0.43},{"v":300,"x":5.5,"y":0.51},{"v":300,"x":5.6,"y":0.59},{"v":300,"x":5.7,"y":0.68},{"v":300,"x":5.8,"y":0.78},{"v":300,"x":5.9,"y":0.87},{"v":300,"x":6,"y":0.98},{"v":300,"x":6.1,"y":1.1},{"v":300,"x":6.2,"y":1.23},{"v":300,"x":6.3,"y":1.4},{"v":300,"x":6.4,"y":1.6},{"v":300,"x":6.5,"y":1.85},{"v":300,"x":6.6,"y":2.1},{"v":300,"x":6.7,"y":2.38},{"v":300,"x":6.8,"y":2.75}
]
},
"concat": [
{
 "width": 491, "height": 402,
 "title": {"text": "a", "anchor": "start", "frame": "group", "dx": -82, "offset": -62.5, "fontSize": 40, "font": "Liberation Serif", "fontWeight": "bold", "color": "black", "baseline": "alphabetic"},
 "data": {"name": "a"},
 "encoding": {
  "x": {"field": "x", "type": "quantitative", "scale": {"domain": [0, 7.55], "nice": false, "zero": false}, "axis": {"title": "logω (rad.s⁻¹)", "values": [0,0.5,1,1.5,2,2.5,3,3.5,4,4.5,5,5.5,6,6.5,7,7.5], "labelExpr": "datum.value % 1 === 0 ? format(datum.value, 'd') : ''", "tickSize": {"condition": {"test": "datum.value % 1 === 0", "value": 7}, "value": 4}, "titleFontSize": 32, "titleY": 66, "titleBaseline": "alphabetic"}},
  "y": {"field": "y", "type": "quantitative", "scale": {"domain": [-0.4, 8], "nice": false, "zero": false}, "axis": {"title": "M'", "values": [0,0.5,1,1.5,2,2.5,3,3.5,4,4.5,5,5.5,6,6.5,7,7.5,8], "labelExpr": "datum.value % 1 === 0 ? format(datum.value, 'd') : ''", "tickSize": {"condition": {"test": "datum.value % 1 === 0", "value": 7}, "value": 4}, "titleFontSize": 32, "titleX": -72, "titleY": 195, "titleAngle": -90, "titleBaseline": "middle", "titleAlign": "center"}}
 },
 "layer": [
  {"mark": {"type": "line", "strokeWidth": 3}, "encoding": {"color": {"field": "v", "type": "nominal", "scale": {"domain": [300,200,100,50], "range": ["#FF00FF","#0000FF","#FF0000","#000000"]}, "legend": {"legendX": 33.5, "legendY": 17.5, "values": [50,100,200,300], "title": "Dark", "titlePadding": 65.5, "titleLineHeight": 35.4, "symbolType": "M-1.52,0H1.52", "symbolStrokeWidth": 5, "labelExpr": "datum.label + ' mV'"}}}},
  {"mark": {"type": "point", "filled": true, "size": 740, "opacity": 1, "strokeWidth": 0}, "encoding": {"fill": {"field": "v", "type": "nominal", "scale": {"domain": [50,100,200,300], "range": ["#000000","#FF0000","#0000FF","#FF00FF"]}, "legend": {"legendX": 33.5, "legendY": 17.5, "title": null, "labelExpr": "''"}}, "shape": {"field": "v", "type": "nominal", "scale": {"domain": [50,100,200,300], "range": ["M-0.31,-0.31H0.31V0.31H-0.31Z", "M-0.34,0A0.34,0.34 0 1,1 0.34,0A0.34,0.34 0 1,1 -0.34,0Z", "M0,-0.42L0.4,0.28H-0.4Z", "M0,0.42L-0.4,-0.28H0.4Z"]}, "legend": {"legendX": 33.5, "legendY": 17.5, "title": null, "labelExpr": "''"}}}}
 ]
},
{
 "width": 491, "height": 402,
 "title": {"text": "b", "anchor": "start", "frame": "group", "dx": -74, "offset": -64.5, "fontSize": 40, "font": "Liberation Serif", "fontWeight": "bold", "color": "black", "baseline": "alphabetic"},
 "data": {"name": "b"},
 "encoding": {
  "x": {"field": "x", "type": "quantitative", "scale": {"domain": [0, 7.55], "nice": false, "zero": false}, "axis": {"title": "logω (rad.s⁻¹)", "values": [0,0.5,1,1.5,2,2.5,3,3.5,4,4.5,5,5.5,6,6.5,7,7.5], "labelExpr": "datum.value % 1 === 0 ? format(datum.value, 'd') : ''", "tickSize": {"condition": {"test": "datum.value % 1 === 0", "value": 7}, "value": 4}, "titleFontSize": 32, "titleY": 66, "titleBaseline": "alphabetic"}},
  "y": {"field": "y", "type": "quantitative", "scale": {"domain": [-0.35, 7], "nice": false, "zero": false}, "axis": {"title": "M''", "values": [0,0.5,1,1.5,2,2.5,3,3.5,4,4.5,5,5.5,6,6.5,7], "labelExpr": "datum.value % 1 === 0 ? format(datum.value, 'd') : ''", "tickSize": {"condition": {"test": "datum.value % 1 === 0", "value": 7}, "value": 4}, "titleFontSize": 32, "titleX": -64, "titleY": 195, "titleAngle": -90, "titleBaseline": "middle", "titleAlign": "center"}}
 },
 "layer": [
  {"mark": {"type": "line", "strokeWidth": 3}, "encoding": {"color": {"field": "v", "type": "nominal", "scale": {"domain": [300,200,100,50], "range": ["#FF00FF","#0000FF","#FF0000","#000000"]}, "legend": {"legendX": 52.5, "legendY": 15.5, "values": [50,100,200,300], "title": "Dark", "titlePadding": 88.5, "titleLineHeight": 38.4, "symbolType": "M-1.52,0H1.52", "symbolStrokeWidth": 5, "labelExpr": "datum.label + ' mV'"}}}},
  {"mark": {"type": "point", "filled": true, "size": 740, "opacity": 1, "strokeWidth": 0}, "encoding": {"fill": {"field": "v", "type": "nominal", "scale": {"domain": [50,100,200,300], "range": ["#000000","#FF0000","#0000FF","#FF00FF"]}, "legend": {"legendX": 52.5, "legendY": 15.5, "title": null, "labelExpr": "''"}}, "shape": {"field": "v", "type": "nominal", "scale": {"domain": [50,100,200,300], "range": ["M-0.31,-0.31H0.31V0.31H-0.31Z", "M-0.34,0A0.34,0.34 0 1,1 0.34,0A0.34,0.34 0 1,1 -0.34,0Z", "M0,-0.42L0.4,0.28H-0.4Z", "M0,0.42L-0.4,-0.28H0.4Z"]}, "legend": {"legendX": 52.5, "legendY": 15.5, "title": null, "labelExpr": "''"}}}}
 ]
},
{
 "width": 491, "height": 398,
 "title": {"text": "c", "anchor": "start", "frame": "group", "dx": -94, "offset": -68.5, "fontSize": 40, "font": "Liberation Serif", "fontWeight": "bold", "color": "black", "baseline": "alphabetic"},
 "data": {"name": "c"},
 "encoding": {
  "x": {"field": "x", "type": "quantitative", "scale": {"domain": [0, 7.55], "nice": false, "zero": false}, "axis": {"title": "logω (rad.s⁻¹)", "values": [0,0.5,1,1.5,2,2.5,3,3.5,4,4.5,5,5.5,6,6.5,7,7.5], "labelExpr": "datum.value % 1 === 0 ? format(datum.value, 'd') : ''", "tickSize": {"condition": {"test": "datum.value % 1 === 0", "value": 7}, "value": 4}, "titleFontSize": 32, "titleY": 66, "titleBaseline": "alphabetic"}},
  "y": {"field": "y", "type": "quantitative", "scale": {"domain": [-1.75, 1.5], "nice": false, "zero": false}, "axis": {"title": "M'", "values": [-1.5,-1.25,-1,-0.75,-0.5,-0.25,0,0.25,0.5,0.75,1,1.25,1.5], "labelExpr": "datum.value % 0.5 === 0 ? replace(format(datum.value, '.1f'), '−', '-') : ''", "tickSize": {"condition": {"test": "datum.value % 0.5 === 0", "value": 7}, "value": 4}, "titleFontSize": 32, "titleX": -74, "titleY": 182, "titleAngle": -90, "titleBaseline": "middle", "titleAlign": "center"}}
 },
 "layer": [
  {"mark": {"type": "line", "strokeWidth": 3}, "encoding": {"color": {"field": "v", "type": "nominal", "scale": {"domain": [300,200,100,50], "range": ["#FF00FF","#0000FF","#FF0000","#000000"]}, "legend": {"legendX": 28.5, "legendY": 12.5, "values": [50,100,200,300], "title": "Light", "titlePadding": 88.5, "titleLineHeight": 59.4, "symbolType": "M-1.52,0H1.52", "symbolStrokeWidth": 5, "labelExpr": "datum.label + ' mV'"}}}},
  {"mark": {"type": "point", "filled": true, "size": 740, "opacity": 1, "strokeWidth": 0}, "encoding": {"fill": {"field": "v", "type": "nominal", "scale": {"domain": [50,100,200,300], "range": ["#000000","#FF0000","#0000FF","#FF00FF"]}, "legend": {"legendX": 28.5, "legendY": 12.5, "title": null, "labelExpr": "''"}}, "shape": {"field": "v", "type": "nominal", "scale": {"domain": [50,100,200,300], "range": ["M-0.31,-0.31H0.31V0.31H-0.31Z", "M-0.34,0A0.34,0.34 0 1,1 0.34,0A0.34,0.34 0 1,1 -0.34,0Z", "M0,-0.42L0.4,0.28H-0.4Z", "M0,0.42L-0.4,-0.28H0.4Z"]}, "legend": {"legendX": 28.5, "legendY": 12.5, "title": null, "labelExpr": "''"}}}}
 ]
},
{
 "width": 491, "height": 398,
 "title": {"text": "d", "anchor": "start", "frame": "group", "dx": -77, "offset": -72.5, "fontSize": 40, "font": "Liberation Serif", "fontWeight": "bold", "color": "black", "baseline": "alphabetic"},
 "data": {"name": "d"},
 "encoding": {
  "x": {"field": "x", "type": "quantitative", "scale": {"domain": [0, 7.55], "nice": false, "zero": false}, "axis": {"title": "logω (rad.s⁻¹)", "values": [0,0.5,1,1.5,2,2.5,3,3.5,4,4.5,5,5.5,6,6.5,7,7.5], "labelExpr": "datum.value % 1 === 0 ? format(datum.value, 'd') : ''", "tickSize": {"condition": {"test": "datum.value % 1 === 0", "value": 7}, "value": 4}, "titleFontSize": 32, "titleY": 66, "titleBaseline": "alphabetic"}},
  "y": {"field": "y", "type": "quantitative", "scale": {"domain": [-0.24, 3], "nice": false, "zero": false}, "axis": {"title": "M''", "values": [0,0.25,0.5,0.75,1,1.25,1.5,1.75,2,2.25,2.5,2.75,3], "labelExpr": "datum.value % 0.5 === 0 ? format(datum.value, '.1f') : ''", "tickSize": {"condition": {"test": "datum.value % 0.5 === 0", "value": 7}, "value": 4}, "titleFontSize": 32, "titleX": -66, "titleY": 182, "titleAngle": -90, "titleBaseline": "middle", "titleAlign": "center"}}
 },
 "layer": [
  {"mark": {"type": "line", "strokeWidth": 3}, "encoding": {"color": {"field": "v", "type": "nominal", "scale": {"domain": [300,200,100,50], "range": ["#FF00FF","#0000FF","#FF0000","#000000"]}, "legend": {"legendX": 35.5, "legendY": 19.5, "values": [50,100,200,300], "title": "Light", "titlePadding": 111.5, "titleLineHeight": 51.4, "symbolType": "M-1.52,0H1.52", "symbolStrokeWidth": 5, "labelExpr": "datum.label + ' mV'"}}}},
  {"mark": {"type": "point", "filled": true, "size": 740, "opacity": 1, "strokeWidth": 0}, "encoding": {"fill": {"field": "v", "type": "nominal", "scale": {"domain": [50,100,200,300], "range": ["#000000","#FF0000","#0000FF","#FF00FF"]}, "legend": {"legendX": 35.5, "legendY": 19.5, "title": null, "labelExpr": "''"}}, "shape": {"field": "v", "type": "nominal", "scale": {"domain": [50,100,200,300], "range": ["M-0.31,-0.31H0.31V0.31H-0.31Z", "M-0.34,0A0.34,0.34 0 1,1 0.34,0A0.34,0.34 0 1,1 -0.34,0Z", "M0,-0.42L0.4,0.28H-0.4Z", "M0,0.42L-0.4,-0.28H0.4Z"]}, "legend": {"legendX": 35.5, "legendY": 19.5, "title": null, "labelExpr": "''"}}}}
 ]
}
]
}
